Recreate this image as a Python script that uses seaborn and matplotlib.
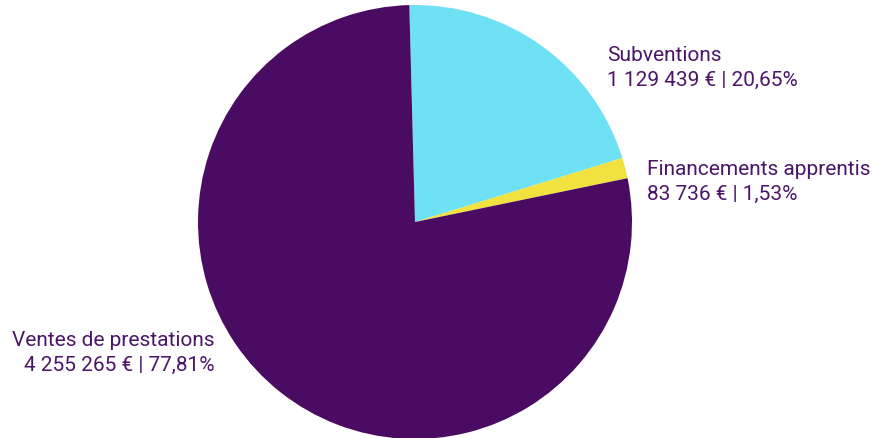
import matplotlib
matplotlib.use("Agg")
import matplotlib.pyplot as plt
import seaborn as sns

categories = ["Subventions", "Financements apprentis", "Ventes de prestations"]
montants = ["1 129 439 €", "83 736 €", "4 255 265 €"]
parts = [20.65, 1.53, 77.81]
couleurs = ["#6fe1f5", "#f1e23f", "#4a0c63"]
texte_couleur = "#4b1668"

sns.set_theme(style="white")
plt.rcParams['font.family'] = ['Roboto', 'DejaVu Sans']

fig = plt.figure(figsize=(8.89, 4.38), dpi=100)
ax = fig.add_axes([0, 0, 1, 1])
ax.pie(parts, colors=couleurs, startangle=91.5, counterclock=False,
       center=(415, 216), radius=217, wedgeprops=dict(linewidth=0))
ax.set_xlim(0, 889)
ax.set_ylim(0, 438)
ax.set_aspect("equal")
ax.axis("off")

# étiquettes
positions = [(607, 438 - 68, "left"), (647, 438 - 182, "left"), (214, 438 - 353, "right")]
for (x, y, ha), cat, m, p in zip(positions, categories, montants, parts):
    label = f"{cat}\n{m} | {str(p).replace('.', ',')}%"
    ax.text(x, y, label, ha=ha, va="center", multialignment=ha,
            fontsize=15, color=texte_couleur, linespacing=1.45)

fig.savefig("out.png", dpi=100)
